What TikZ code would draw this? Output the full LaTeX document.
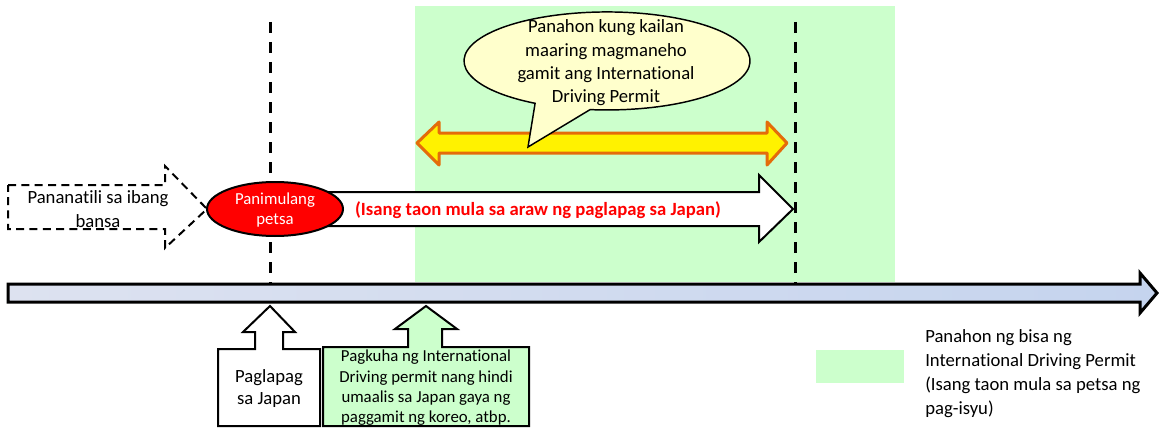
\documentclass[tikz,border=0pt]{standalone}
\usepackage{fontspec}
\setmainfont{Carlito}[Ligatures=NoCommon]
\usepackage{tikz}
\definecolor{permitgreen}{HTML}{CCFFCC}
\definecolor{bubbleyellow}{HTML}{FFFFCC}
\definecolor{rangeorange}{HTML}{E46C0A}
\definecolor{axisleft}{HTML}{DDE2F0}
\definecolor{axismid}{HTML}{D9D9D9}
\definecolor{axisright}{HTML}{C5D4EE}

\begin{document}
\begin{tikzpicture}[x=0.75pt,y=-0.75pt,
    datemark/.style={line width=2.25pt,dash pattern=on 8pt off 7pt},
    outline/.style={draw=black,line width=1.5pt,line join=miter},
    bigtext/.style={align=center,inner sep=0pt,font=\fontsize{14}{17.5}\selectfont},
    smalltext/.style={align=center,inner sep=0pt,font=\fontsize{12.6}{15.2}\selectfont}]
    \useasboundingbox (0,0) rectangle (1159,428);

    % validity period of the permit
    \fill[permitgreen] (415,6) rectangle (895,282);
    \draw[datemark] (270,22) -- (270,283);
    \draw[datemark] (795,22) -- (795,283);

    \draw[fill=yellow,draw=rangeorange,line width=2.25pt,line join=round]
      (417,143) -- (439,122) -- (439,133) -- (767,133) -- (767,122) -- (787,143)
      -- (767,165) -- (767,153) -- (439,153) -- (439,165) -- cycle;
    \draw[fill=bubbleyellow,line width=1.1pt]
      (535.1,103.3) arc[start angle=120.2,end angle=456.8,x radius=143,y radius=49]
      -- (528,147) -- cycle;
    \node[bigtext] (drivetext) at (606,63)
      {Panahon kung kailan\\maaring magmaneho\\gamit ang International\\Driving Permit};

    % stay abroad and one year from landing
    \draw[line width=1.5pt,dash pattern=on 6pt off 4pt]
      (8,185) -- (165,185) -- (165,166) -- (207,209) -- (165,248) -- (165,229)
      -- (8,229) -- cycle;
    \node[bigtext] (abroadtext) at (98,209) {Pananatili sa ibang\\bansa};

    \draw[outline,fill=white] (320,192) -- (759,192) -- (759,175) -- (793,209)
      -- (759,242) -- (759,226) -- (320,226) -- cycle;
    \node[bigtext,text=red,font=\fontsize{14}{17.5}\selectfont\bfseries] (yeartext)
      at (538,210) {(Isang taon mula sa araw ng paglapag sa Japan)};

    \draw[outline,fill=red] (275,209) ellipse[x radius=68,y radius=27];
    \node[smalltext,text=white,font=\fontsize{12.6}{15}\selectfont] (starttext)
      at (275,210) {Panimulang\\petsa};

    % time axis
    \draw[line width=2.25pt,left color=axisleft,middle color=axismid,right color=axisright]
      (8,284) -- (1140,284) -- (1140,273) -- (1157,293) -- (1140,313) -- (1140,302)
      -- (8,302) -- cycle;

    % landing and applying from Japan
    \draw[outline,fill=white] (218,349) -- (255,349) -- (255,332) -- (243,332)
      -- (270,306) -- (295,332) -- (283,332) -- (283,349) -- (320,349)
      -- (320,426) -- (218,426) -- cycle;
    \node[bigtext,font=\fontsize{14}{16.5}\selectfont] (landtext) at (269,389)
      {Paglapag\\sa Japan};

    \draw[outline,fill=permitgreen] (323,347) -- (408,347) -- (408,329) -- (395,329)
      -- (426,306) -- (457,329) -- (442,329) -- (442,347) -- (529,347)
      -- (529,426) -- (323,426) -- cycle;
    \node[smalltext] (applytext) at (426,388)
      {Pagkuha ng International\\Driving permit nang hindi\\umaalis sa Japan gaya ng\\paggamit ng koreo, atbp.};

    % legend
    \fill[permitgreen] (816,350) rectangle (904,383);
    \node[bigtext,align=left,anchor=west,font=\fontsize{14}{18}\selectfont] (legendtext)
      at (925,374) {Panahon ng bisa ng\\International Driving Permit\\(Isang taon mula sa petsa ng\\pag-isyu)};
\end{tikzpicture}
\end{document}
